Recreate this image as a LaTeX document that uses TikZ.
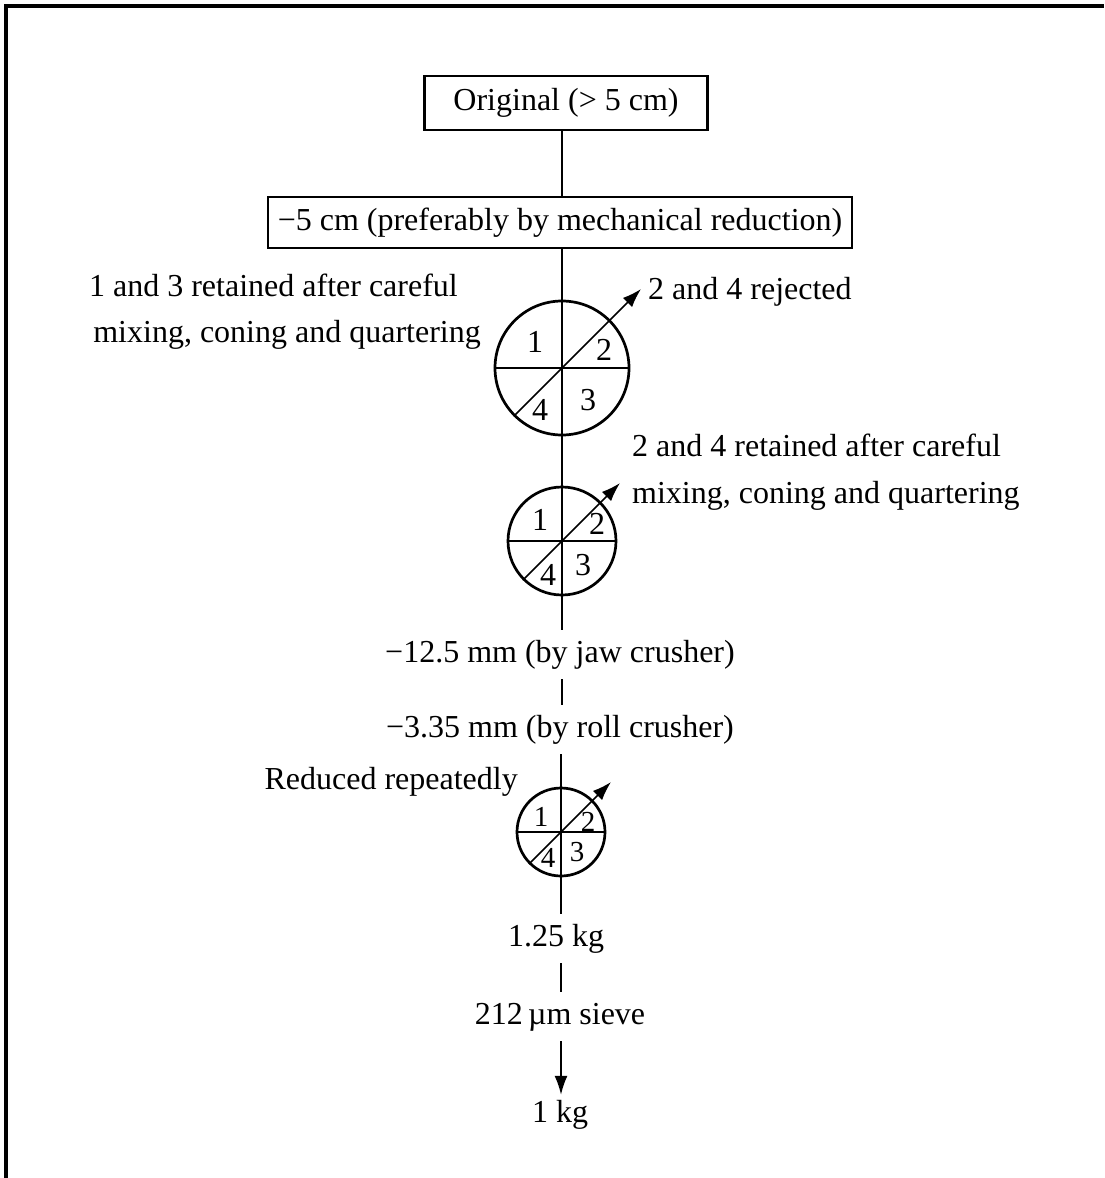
\documentclass[tikz,border=0pt]{standalone}
\usepackage{fontspec}
\setmainfont{Liberation Serif}
\usetikzlibrary{arrows.meta,calc}
\begin{document}
\begin{tikzpicture}[x=1pt,y=-1pt,
  every node/.style={font=\fontsize{32}{38}\selectfont},
  box/.style={draw,line width=2.3pt,inner sep=0pt,anchor=center},
  lbl/.style={inner xsep=0pt,inner ysep=10pt,text height=22pt,text depth=7pt,anchor=base},
  txt/.style={inner sep=0pt},
  ring/.style={draw,circle,line width=2.7pt,inner sep=0pt},
  conn/.style={line width=1.7pt},
  tip/.style={-{Latex[length=19pt,width=13pt]}},
  num/.style={inner sep=0pt},
  smallnum/.style={inner sep=0pt,font=\fontsize{29}{33}\selectfont}
]
\useasboundingbox (0,0) rectangle (1104,1178);
\fill[white] (0,0) rectangle (1104,1178);
\draw[line width=4pt] (6,1178) -- (6,5.5) -- (1104,5.5);

% boxes
\node[box,minimum width=283pt,minimum height=54pt] (b1) at (566,103) {Original (> 5 cm)};
\node[box,minimum width=584pt,minimum height=51pt] (b2) at (560,222.5) {−5 cm (preferably by mechanical reduction)};

% circles
\node[ring,minimum size=134pt] (c1) at (562,368) {};
\node[ring,minimum size=108pt] (c2) at (562,541) {};
\node[ring,minimum size=88pt] (c3) at (561,832) {};

% stage labels
\node[lbl] (t1) at (560,662) {−12.5 mm (by jaw crusher)};
\node[lbl] (t2) at (560,737) {−3.35 mm (by roll crusher)};
\node[lbl] (w1) at (556,946) {1.25 kg};
\node[lbl] (s1) at (560,1024) {212\,µm sieve};
\node[lbl,inner ysep=5pt] (f1) at (560,1122) {1 kg};

% side texts
\node[txt,anchor=base east] (l1a) at (458,296) {1 and 3 retained after careful};
\node[txt,anchor=base east] (l1b) at (481,342) {mixing, coning and quartering};
\node[txt,anchor=base west] (r1) at (648,299) {2 and 4 rejected};
\node[txt,anchor=base west] (r2a) at (632,456) {2 and 4 retained after careful};
\node[txt,anchor=base west] (r2b) at (632,503) {mixing, coning and quartering};
\node[txt,anchor=base east] (l3) at (518,789) {Reduced repeatedly};

% connectors
\draw[conn] (b1.south -| c1.center) -- (b2.north -| c1.center);
\draw[conn] (b2.south -| c1.center) -- (c1.north) -- (c1.south) -- (c2.north) -- (c2.south) -- (t1.north -| c2.center);
\draw[conn] (t1.south -| c2.center) -- (t2.north -| c2.center);
\draw[conn] (t2.south -| c3.center) -- (c3.north) -- (c3.south) -- (w1.north -| c3.center);
\draw[conn] (w1.south -| c3.center) -- (s1.north -| c3.center);
\draw[conn,tip] (s1.south -| c3.center) -- (f1.north -| c3.center);

% diameters
\draw[conn] (c1.west) -- (c1.east);
\draw[conn] (c2.west) -- (c2.east);
\draw[conn] (c3.west) -- (c3.east);

% diagonal arrows
\coordinate (a1) at (641,289);
\coordinate (a2) at (620,483);
\coordinate (a3) at (611,782);
\draw[conn,tip] (c1.225) -- (a1);
\draw[conn,tip] (c2.225) -- (a2);
\draw[conn,tip] (c3.225) -- (a3);

% quarter numbers
\node[num] (n11) at ($(c1)+(-27,-26)$) {1};
\node[num] (n12) at ($(c1)+(42,-18)$) {2};
\node[num] (n13) at ($(c1)+(26,32)$) {3};
\node[num] (n14) at ($(c1)+(-22,42)$) {4};
\node[num] (n21) at ($(c2)+(-22,-21)$) {1};
\node[num] (n22) at ($(c2)+(35,-17)$) {2};
\node[num] (n23) at ($(c2)+(21,24)$) {3};
\node[num] (n24) at ($(c2)+(-14,34)$) {4};
\node[smallnum] (n31) at ($(c3)+(-20,-15)$) {1};
\node[smallnum] (n32) at ($(c3)+(27,-10)$) {2};
\node[smallnum] (n33) at ($(c3)+(16,20)$) {3};
\node[smallnum] (n34) at ($(c3)+(-13,26)$) {4};
\end{tikzpicture}
\end{document}
